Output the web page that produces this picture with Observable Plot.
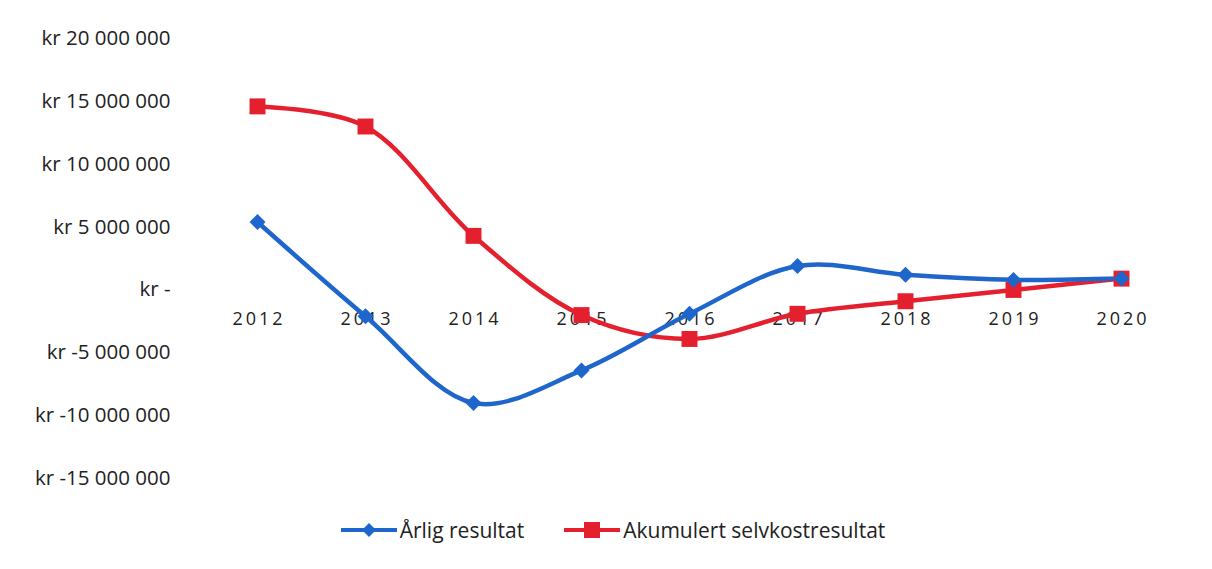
<!DOCTYPE html>
<html><head><meta charset="utf-8">
<script src="https://cdn.jsdelivr.net/npm/d3@7"></script>
<script src="https://cdn.jsdelivr.net/npm/@observablehq/plot@0.6"></script>
<style>
body{margin:0;background:#fff;font-family:"Open Sans",sans-serif;}
#legend{display:flex;justify-content:center;align-items:center;height:50px;font-size:21px;color:#222;margin-left:14px;}
.item{display:flex;align-items:center;}
</style></head>
<body><div id="chart"></div><div id="legend"></div>
<script>
const years = [2012, 2013, 2014, 2015, 2016, 2017, 2018, 2019, 2020];
const arlig = [5400000, -2100000, -9000000, -6400000, -1900000, 1900000, 1200000, 800000, 900000];
const akumulert = [14600000, 13000000, 4300000, -2000000, -3900000, -1900000, -900000, 0, 900000];
const yTicks = [-15000000, -10000000, -5000000, 0, 5000000, 10000000, 15000000, 20000000];
const seriesNames = ["Årlig resultat", "Akumulert selvkostresultat"];
const colors = ["#1f66cc", "#e5202e"];

const data = [];
years.forEach((y, i) => {
  data.push({year: y, value: arlig[i], s: seriesNames[0]});
  data.push({year: y, value: akumulert[i], s: seriesNames[1]});
});
const fmt = v => v === 0 ? "kr -" : "kr " + (v < 0 ? "-" : "") + d3.format(",")(Math.abs(v)).replace(/,/g, " ");

const chart = Plot.plot({
  width: 1212, height: 505,
  marginLeft: 253, marginRight: 88, marginTop: 38, marginBottom: 27,
  x: {type: "point", domain: years, padding: 0, axis: null},
  y: {domain: [-15000000, 20000000], axis: null},
  color: {domain: seriesNames, range: colors},
  style: {fontFamily: "Open Sans, sans-serif"},
  marks: [
    Plot.axisY({ticks: yTicks, tickSize: 0, tickPadding: 83, tickFormat: fmt, fontSize: 20.5, fill: "#222", anchor: "left", label: null}),
    Plot.text(years, {x: d => d, y: 0, dy: 29, text: d => String(d).split("").join("\u2009"), fontSize: 18, fill: "#222"}),
    Plot.line(data.filter(d => d.s === seriesNames[1]), {x: "year", y: "value", stroke: colors[1], strokeWidth: 4.5, curve: "catmull-rom"}),
    Plot.line(data.filter(d => d.s === seriesNames[0]), {x: "year", y: "value", stroke: colors[0], strokeWidth: 4.5, curve: "catmull-rom"}),
    Plot.dot(data.filter(d => d.s === seriesNames[1]), {x: "year", y: "value", symbol: "square", r: 9, fill: colors[1]}),
    Plot.dot(data.filter(d => d.s === seriesNames[0]), {x: "year", y: "value", symbol: "diamond2", r: 7.2, fill: colors[0], stroke: "none"})
  ]
});
document.getElementById("chart").appendChild(chart);

const leg = document.getElementById("legend");
seriesNames.forEach((n, i) => {
  const sym = i === 0
    ? `<path d="M28,3 L35,10 L28,17 L21,10 Z" fill="${colors[0]}"/>`
    : `<rect x="20" y="2" width="16" height="16" fill="${colors[1]}"/>`;
  leg.insertAdjacentHTML("beforeend",
    `<div class="item" style="margin-right:${i===0?40:0}px"><svg width="56" height="20" style="margin-right:3px"><line x1="0" y1="10" x2="56" y2="10" stroke="${colors[i]}" stroke-width="4"/>${sym}</svg><span>${n}</span></div>`);
});
</script></body></html>
